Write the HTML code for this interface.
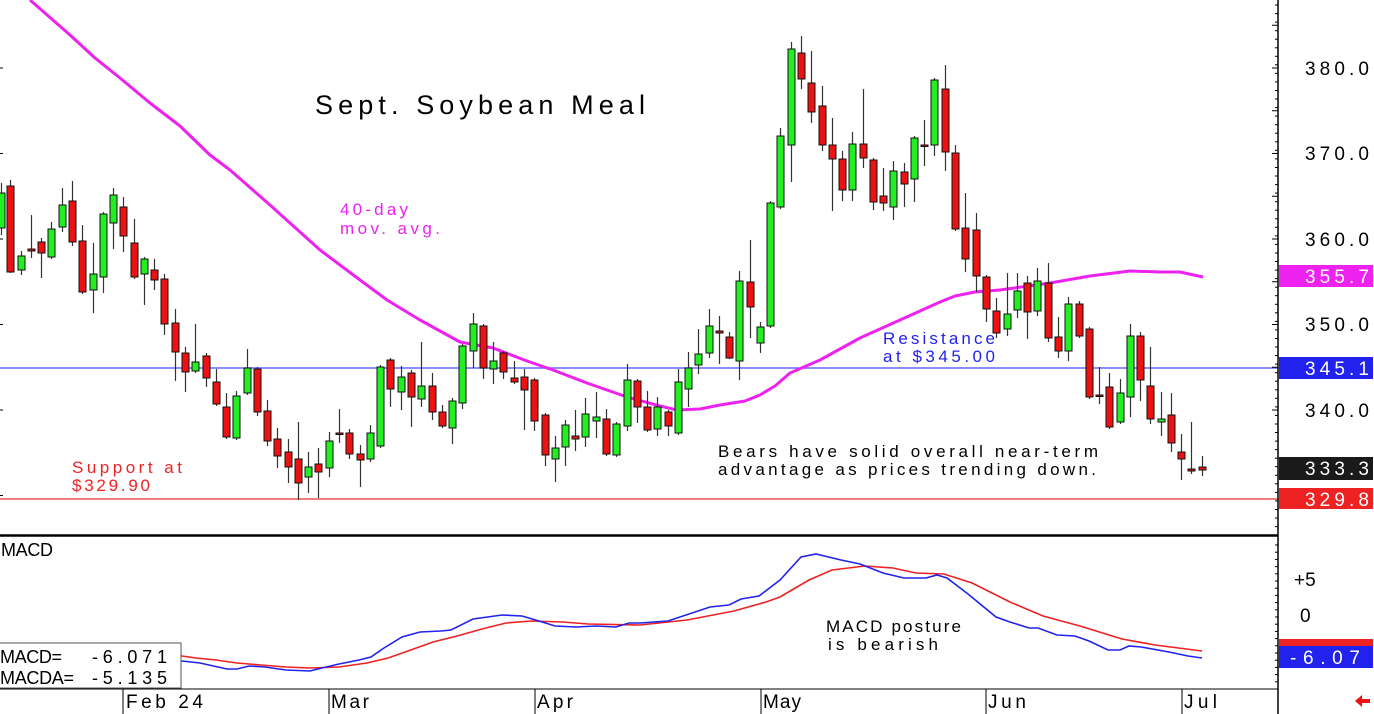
<!DOCTYPE html>
<html><head><meta charset="utf-8"><style>
html,body{margin:0;padding:0;background:#fff;}
svg{display:block;font-family:"Liberation Sans",sans-serif;}
</style></head><body>
<svg id="c" width="1374" height="714" viewBox="0 0 1374 714" xmlns="http://www.w3.org/2000/svg">
<rect width="1374" height="714" fill="#fff"/>
<line x1="0" y1="499" x2="1278" y2="499" stroke="#ee5555" stroke-width="1.5"/>
<line x1="0" y1="368" x2="1278" y2="368" stroke="#6666ff" stroke-width="1.5"/>
<polyline fill="none" stroke="#ee22ee" stroke-width="3" stroke-linejoin="round" points="30,0 70,35 95,58 120,78 150,103 180,126 210,155 230,170 270,205 320,250 360,280 387,300 420,320 460,342 493,348 527,361 553,370 587,383 627,397 660,406 677,410 700,409 720,405 745,401 760,395 775,386 790,373 820,360 860,338 900,320 940,302 955,296 975,292 1000,290 1050,283 1090,276 1130,271 1160,272 1180,272 1203,277"/>
<g id="candles"></g>
<line x1="1278" y1="0" x2="1278" y2="714" stroke="#000" stroke-width="1.5"/>
<line x1="0" y1="535.5" x2="1278" y2="535.5" stroke="#000" stroke-width="2.5"/>
<line x1="0" y1="689" x2="1278" y2="689" stroke="#000" stroke-width="1"/>
<g id="ticks" stroke="#000" stroke-width="1"></g>
<g font-size="19" fill="#000">
<text x="1305" y="75" textLength="64" lengthAdjust="spacing">380.0</text>
<text x="1305" y="160" textLength="64" lengthAdjust="spacing">370.0</text>
<text x="1305" y="246" textLength="64" lengthAdjust="spacing">360.0</text>
<text x="1305" y="331" textLength="64" lengthAdjust="spacing">350.0</text>
<text x="1305" y="417" textLength="64" lengthAdjust="spacing">340.0</text>
</g>
<rect x="1279" y="265" width="94" height="22" fill="#ee22ee"/>
<text x="1305" y="283" font-size="19" fill="#fff" textLength="64" lengthAdjust="spacing">355.7</text>
<rect x="1279" y="357" width="94" height="22" fill="#2222ee"/>
<text x="1305" y="375" font-size="19" fill="#fff" textLength="64" lengthAdjust="spacing">345.1</text>
<rect x="1279" y="457" width="94" height="23" fill="#1a1a1a"/>
<text x="1305" y="475" font-size="19" fill="#fff" textLength="64" lengthAdjust="spacing">333.3</text>
<rect x="1279" y="488" width="94" height="21" fill="#ee2222"/>
<text x="1305" y="506" font-size="19" fill="#fff" textLength="64" lengthAdjust="spacing">329.8</text>
<text x="1294" y="586" font-size="19" fill="#000">+5</text>
<text x="1300" y="622" font-size="19" fill="#000">0</text>
<rect x="1279" y="639" width="94" height="8" fill="#ee2222"/>
<rect x="1279" y="646" width="94" height="22" fill="#2222ee"/>
<text x="1290" y="664" font-size="19" fill="#fff" textLength="70" lengthAdjust="spacing">-6.07</text>
<polyline fill="none" stroke="#ee2222" stroke-width="1.6" points="150,654 182,656 196,658 216,660 237,663 261,665 286,667 310,668 339,667 367,663 388,658 408,651 433,642 457,636 482,629 506,623 531,621 563,622 588,624 640,625 687,620 734,611 766,602 780,597 809,580 832,570 865,566 893,568 916,573 944,574 972,583 1010,602 1043,616 1080,626 1122,639 1155,645 1202,651"/>
<polyline fill="none" stroke="#2222ee" stroke-width="1.6" points="150,658 182,661 200,663 227,669 237,669 249,666 265,667 286,670 310,671 322,668 339,664 359,660 371,657 384,648 402,637 420,632 441,631 451,630 473,619 502,615 522,616 539,621 555,626 576,627 596,626 616,627 629,623 640,623 668,621 710,607 729,605 741,599 759,596 780,580 801,557 816,554 841,560 860,564 883,573 904,578 926,578 937,575 947,578 968,594 996,617 1010,622 1029,628 1038,628 1057,635 1075,636 1089,641 1108,650 1120,650 1129,646 1141,647 1169,652 1188,656 1202,658"/>
<rect x="-1" y="643" width="182" height="45" fill="#fff" stroke="#555" stroke-width="1"/>
<text x="0" y="663" font-size="18" fill="#000" textLength="62" lengthAdjust="spacing">MACD=</text>
<text x="92" y="663" font-size="18" fill="#000" textLength="75" lengthAdjust="spacing">-6.071</text>
<text x="0" y="684" font-size="18" fill="#000" textLength="74" lengthAdjust="spacing">MACDA=</text>
<text x="92" y="684" font-size="18" fill="#000" textLength="75" lengthAdjust="spacing">-5.135</text>
<text x="1" y="556" font-size="18" fill="#000" textLength="52" lengthAdjust="spacing">MACD</text>
<text x="826" y="632" font-size="17" fill="#000" textLength="135" lengthAdjust="spacing">MACD posture</text>
<text x="828" y="650" font-size="17" fill="#000" textLength="110" lengthAdjust="spacing">is bearish</text>
<g stroke="#000" stroke-width="1">
<line x1="123" y1="689" x2="123" y2="714"/><line x1="329" y1="689" x2="329" y2="714"/>
<line x1="535" y1="689" x2="535" y2="714"/><line x1="761" y1="689" x2="761" y2="714"/>
<line x1="986" y1="689" x2="986" y2="714"/><line x1="1182" y1="689" x2="1182" y2="714"/>
</g>
<g font-size="19" fill="#000">
<text x="126" y="708" textLength="77" lengthAdjust="spacing">Feb 24</text>
<text x="331" y="708" textLength="38" lengthAdjust="spacing">Mar</text>
<text x="537" y="708" textLength="36" lengthAdjust="spacing">Apr</text>
<text x="763" y="708" textLength="38" lengthAdjust="spacing">May</text>
<text x="988" y="708" textLength="38" lengthAdjust="spacing">Jun</text>
<text x="1184" y="708" textLength="33" lengthAdjust="spacing">Jul</text>
</g>
<polygon points="1355,701 1362,695 1362,699 1370,699 1370,703 1362,703 1362,707" fill="#ee1111"/>
<text x="315" y="114" font-size="27" fill="#000" textLength="330" lengthAdjust="spacing">Sept. Soybean Meal</text>
<text x="340" y="215" font-size="17" fill="#ee22ee" textLength="68" lengthAdjust="spacing">40-day</text>
<text x="340" y="234" font-size="17" fill="#ee22ee" textLength="100" lengthAdjust="spacing">mov. avg.</text>
<text x="883" y="344" font-size="17" fill="#2222ee" textLength="112" lengthAdjust="spacing">Resistance</text>
<text x="883" y="362" font-size="17" fill="#2222ee" textLength="112" lengthAdjust="spacing">at $345.00</text>
<text x="72" y="473" font-size="17" fill="#ee2222" textLength="110" lengthAdjust="spacing">Support at</text>
<text x="72" y="491" font-size="17" fill="#ee2222" textLength="78" lengthAdjust="spacing">$329.90</text>
<text x="718" y="457" font-size="17" fill="#000" textLength="380" lengthAdjust="spacing">Bears have solid overall near-term</text>
<text x="718" y="475" font-size="17" fill="#000" textLength="378" lengthAdjust="spacing">advantage as prices trending down.</text>
</svg>
<script>
var C=[[1,183,193,228,235,'g'],[10,180,186,272,273,'r'],[21,251,256,270,275,'g'],[31,215,249,251,258,'r'],[41,238,242,253,278,'r'],[51,222,229,257,259,'g'],[62,188,205,227,232,'g'],[72,181,201,242,246,'r'],[82,225,241,292,294,'r'],[93,243,274,290,313,'g'],[103,212,214,277,293,'g'],[113,188,195,223,249,'g'],[123,197,207,236,252,'r'],[134,219,243,277,279,'r'],[144,257,259,274,305,'g'],[154,259,270,280,290,'r'],[164,274,279,324,335,'r'],[175,309,323,352,381,'r'],[185,347,353,372,392,'r'],[195,324,362,371,373,'g'],[206,353,356,378,387,'r'],[216,369,382,404,406,'r'],[226,393,407,437,439,'r'],[236,391,396,438,440,'g'],[247,349,368,393,395,'g'],[257,367,369,412,416,'r'],[267,400,411,441,446,'r'],[277,428,439,456,468,'r'],[288,439,452,467,483,'r'],[298,422,459,483,500,'r'],[308,452,467,477,493,'g'],[318,448,464,472,498,'r'],[329,432,441,468,477,'g'],[339,409,433,434,443,'r'],[349,429,433,454,459,'r'],[360,445,454,460,487,'r'],[370,425,433,459,462,'g'],[380,365,367,446,448,'g'],[390,358,360,389,407,'r'],[401,366,377,392,410,'g'],[411,370,373,397,427,'r'],[421,342,386,399,407,'g'],[432,373,386,412,420,'r'],[442,405,412,426,428,'r'],[452,398,401,428,444,'g'],[462,344,346,403,409,'g'],[473,313,324,351,368,'g'],[483,324,326,368,379,'r'],[493,342,361,369,384,'g'],[503,351,353,372,379,'r'],[514,361,378,382,384,'r'],[524,369,377,390,430,'r'],[534,378,380,421,431,'r'],[545,413,415,455,466,'r'],[555,436,448,459,482,'g'],[565,420,425,447,466,'g'],[575,410,436,439,451,'r'],[585,398,414,437,447,'g'],[596,392,417,421,438,'g'],[606,409,419,454,456,'r'],[616,422,424,455,457,'g'],[627,364,380,426,431,'g'],[637,379,381,407,423,'r'],[647,391,407,430,432,'r'],[657,397,407,429,436,'g'],[668,410,412,426,436,'r'],[678,369,382,433,435,'g'],[688,352,368,389,407,'g'],[698,329,354,365,374,'g'],[709,309,326,353,358,'g'],[719,316,331,333,364,'r'],[729,332,337,358,359,'r'],[739,271,281,361,380,'g'],[750,240,282,307,338,'r'],[760,322,327,343,353,'g'],[770,201,203,326,328,'g'],[780,128,136,207,209,'g'],[791,42,49,145,182,'g'],[801,36,53,79,89,'r'],[811,51,83,112,123,'r'],[822,86,106,145,151,'r'],[832,118,145,159,211,'r'],[842,151,159,190,201,'r'],[852,132,144,190,201,'g'],[863,89,144,158,168,'r'],[873,158,160,202,210,'r'],[883,168,196,203,211,'r'],[893,161,171,207,220,'g'],[904,163,172,184,207,'r'],[914,136,138,179,202,'g'],[924,120,145,146,166,'r'],[934,78,80,145,156,'g'],[945,65,89,152,171,'r'],[955,145,153,229,231,'r'],[965,193,228,259,272,'r'],[976,213,230,276,292,'r'],[986,275,277,309,322,'r'],[996,298,311,333,338,'r'],[1007,273,314,329,336,'g'],[1017,273,291,310,318,'g'],[1027,276,283,312,339,'r'],[1037,268,281,311,316,'g'],[1048,263,283,338,342,'r'],[1058,317,337,351,358,'r'],[1068,297,304,351,361,'g'],[1079,301,304,336,338,'r'],[1089,327,329,397,399,'r'],[1099,367,395,396,404,'r'],[1109,373,387,427,429,'r'],[1120,379,393,422,424,'g'],[1130,324,336,397,417,'g'],[1140,332,336,380,401,'r'],[1150,347,386,419,424,'r'],[1161,392,419,422,436,'g'],[1171,393,415,443,452,'r'],[1181,434,452,459,480,'r'],[1191,422,469,471,474,'r'],[1202,456,467,470,476,'r']];
var g=document.getElementById('candles'),s='';
C.forEach(function(c){var x=c[0];s+='<line x1="'+(x+0.5)+'" y1="'+c[1]+'" x2="'+(x+0.5)+'" y2="'+c[4]+'" stroke="#333" stroke-width="1.2"/>';
var h=Math.max(c[3]-c[2],1.5);s+='<rect x="'+(x-3)+'" y="'+c[2]+'" width="7" height="'+h+'" fill="'+(c[5]=='g'?'#22ee22':'#ee1111')+'" stroke="#111" stroke-width="1"/>';});
g.innerHTML=s;
var t=document.getElementById('ticks'),u='';
for(var p=340;p<=385;p+=5){var y=68+(380-p)*8.55;u+='<line x1="1272" y1="'+y+'" x2="1278" y2="'+y+'"/>';}
for(var y=5;y<535;y+=8.55){u+='<line x1="1275" y1="'+y.toFixed(1)+'" x2="1278" y2="'+y.toFixed(1)+'"/>';}
for(var y=545;y<688;y+=7.2){u+='<line x1="1275" y1="'+y.toFixed(1)+'" x2="1278" y2="'+y.toFixed(1)+'"/>';}
for(var y=68;y<500;y+=85.5){u+='<line x1="0" y1="'+y+'" x2="3" y2="'+y+'"/>';}
t.innerHTML=u;
</script>
</body></html>
